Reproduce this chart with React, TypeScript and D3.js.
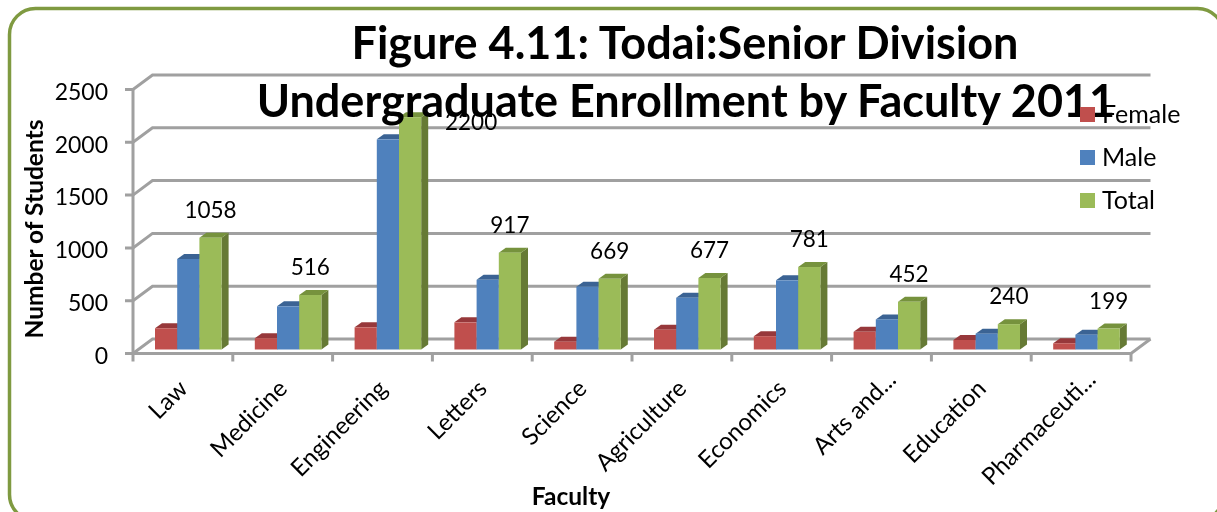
import React from "react";
import * as d3 from "d3";

const categories = ["Law", "Medicine", "Engineering", "Letters", "Science", "Agriculture", "Economics", "Arts and...", "Education", "Pharmaceuti..."];
const female = [201, 107, 210, 257, 74, 187, 126, 167, 90, 59];
const male = [857, 409, 1990, 660, 595, 490, 655, 285, 150, 140];
const total = [1058, 516, 2200, 917, 669, 677, 781, 452, 240, 199];
const yTicks = [0, 500, 1000, 1500, 2000, 2500];
const seriesNames = ["Female", "Male", "Total"];
const titleLines = ["Figure 4.11: Todai:Senior Division", "Undergraduate Enrollment by Faculty 2011"];

const colors = [
  { front: "#c0504d", top: "#97393a", side: "#8a3a38" },
  { front: "#4f81bd", top: "#3a6494", side: "#365f8f" },
  { front: "#9bbb59", top: "#76923c", side: "#667a35" },
];
const FONT = "Lato, Carlito, sans-serif";
const GRID = "#a0a0a0";

export default function App() {
  const x = d3.scaleBand<string>().domain(categories).range([133, 1131]);
  const y = d3.scaleLinear().domain([0, 2500]).range([353.5, 89.5]);
  const wallDx = 19.5, wallDy = -14.5;
  const depthX = 7, depthY = 5;
  const floorLift = 4; // bars stand slightly back from the front edge of the floor
  const series = [female, male, total];
  const barW = 22.2;
  const groupInset = 22;
  const ticksX = [...categories.map((c) => x(c)!), 1131];

  return (
    <svg width={1217} height={512} style={{ position: "absolute", left: 0, top: 0, fontFamily: FONT }}>
      <defs>
        <filter id="soft" x="-5%" y="-5%" width="110%" height="110%">
          <feGaussianBlur stdDeviation="0.35" />
        </filter>
      </defs>
      <rect width={1217} height={512} fill="#fff" />
      <rect x={9.5} y={8.5} width={1214} height={512} rx={26} ry={26} fill="none" stroke="#7f9a41" strokeWidth={3.5} />

      <g filter="url(#soft)">
        {/* walls and gridlines */}
        <g stroke={GRID} strokeWidth={3} fill="none">
          {yTicks.map((t) => (
            <path key={t} d={`M125,${y(t)}H133L${133 + wallDx},${y(t) + wallDy}H${1131 + wallDx}`} />
          ))}
          <path d={`M133,${y(2500)}V${y(0)}H1131L${1131 + wallDx},${y(0) + wallDy}`} />
          {ticksX.map((t) => (
            <path key={t} d={`M${t},${y(0)}V${y(0) + 8}`} />
          ))}
        </g>

        {/* bars */}
        {categories.map((c, i) =>
          series.map((vals, s) => {
            const x0 = x(c)! + groupInset + s * barW;
            const x1 = x0 + barW;
            const yb = y(0) - floorLift;
            const yt = y(vals[i]) - floorLift;
            return (
              <g key={c + s}>
                <path fill={colors[s].side} d={`M${x1},${yt}L${x1 + depthX},${yt - depthY}V${yb - depthY}L${x1},${yb}Z`} />
                <path fill={colors[s].top} d={`M${x0},${yt}L${x0 + depthX},${yt - depthY}H${x1 + depthX}L${x1},${yt}Z`} />
                <rect x={x0} y={yt} width={barW} height={yb - yt} fill={colors[s].front} />
              </g>
            );
          })
        )}

        {/* data labels */}
        {categories.map((c, i) => {
          const moved = c === "Engineering";
          const cx = x(c)! + groupInset + 2.5 * barW + (moved ? 61 : 0);
          const cy = y(total[i]) - floorLift - 28 + (moved ? 33 : 0);
          return (
            <text key={c} x={cx} y={cy} dy="0.36em" textAnchor="middle" fontSize={22.5} fill="#000">
              {total[i]}
            </text>
          );
        })}

        {/* y labels */}
        {yTicks.map((t) => (
          <text key={t} x={108} y={y(t) + 2} dy="0.36em" textAnchor="end" fontSize={23} fill="#000">
            {t}
          </text>
        ))}

        {/* x labels */}
        {categories.map((c) => {
          const cut = c.endsWith("...");
          const cx = x(c)! + x.bandwidth() / 2 + (cut ? 10 : 0);
          const cy = cut ? 375 : 384;
          return (
            <text key={c} transform={`translate(${cx},${cy}) rotate(-45)`} dy="0.36em" textAnchor="end" fontSize={24} fill="#000">
              {c}
            </text>
          );
        })}

        <text transform="translate(34,229) rotate(-90)" textAnchor="middle" dy="0.36em" fontSize={24.5} fontWeight={700} fill="#000">
          Number of Students
        </text>
        <text x={571} y={496} dy="0.36em" textAnchor="middle" fontSize={24.5} fontWeight={700} fill="#000">
          Faculty
        </text>

        {/* title */}
        {titleLines.map((t, i) => (
          <text key={t} x={i === 0 ? 685 : 686} y={43 + i * 58} dy="0.36em" textAnchor="middle" fontSize={45} fontWeight={700} fill="#000">
            {t}
          </text>
        ))}

        {/* legend */}
        {seriesNames.map((n, i) => (
          <g key={n}>
            <rect x={1080} y={107 + i * 43} width={15} height={15} fill={colors[i].front} />
            <text x={1102} y={114 + i * 43} dy="0.36em" fontSize={25} fill="#000">
              {n}
            </text>
          </g>
        ))}
      </g>
    </svg>
  );
}
